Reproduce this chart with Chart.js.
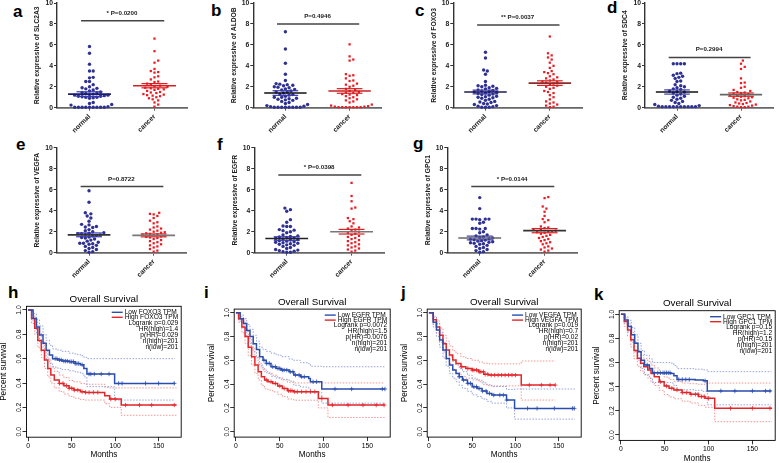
<!DOCTYPE html>
<html>
<head>
<meta charset="utf-8">
<script src="https://cdn.jsdelivr.net/npm/chart.js@4"></script>
<style>
html, body { margin: 0; padding: 0; background: #fff; }
body { position: relative; width: 779px; height: 463px; overflow: hidden; font-family: "Liberation Sans", Arial, sans-serif; }
canvas { position: absolute; }
.lbl { position: absolute; font-weight: bold; font-size: 17px; line-height: 17px; color: #000; }
</style>
</head>
<body>
<div class="lbl" style="left:13px;top:2.6px">a</div>
<div class="lbl" style="left:211px;top:2.3px">b</div>
<div class="lbl" style="left:415px;top:2.3px">c</div>
<div class="lbl" style="left:607px;top:-1.1px">d</div>
<div class="lbl" style="left:16px;top:135.6px">e</div>
<div class="lbl" style="left:217px;top:135.6px">f</div>
<div class="lbl" style="left:413px;top:134.6px">g</div>
<div class="lbl" style="left:8px;top:283.9px">h</div>
<div class="lbl" style="left:204px;top:283.9px">i</div>
<div class="lbl" style="left:401px;top:283.9px">j</div>
<div class="lbl" style="left:594px;top:285.6px">k</div>
<script>
// ---- dot plots (a-g) ----
const groups = ['normal', 'cancer'];
const genes = ['SLC2A3', 'ALDOB', 'FOXO3', 'SDC4', 'VEGFA', 'EGFR', 'GPC1'];
const pText = ['* P=0.0200', 'P=0.4946', '** P=0.0037', 'P=0.2994', 'P=0.8722', '* P=0.0398', '* P=0.0144'];
const pBarY = [8.3, 8.0, 7.9, 4.8, 6.3, 7.4, 6.3];
const meanNormal = [1.3, 1.4, 1.5, 1.5, 1.7, 1.35, 1.4];
const semNormal = [0.22, 0.22, 0.18, 0.2, 0.18, 0.17, 0.18];
const meanCancer = [2.1, 1.6, 2.35, 1.25, 1.65, 2.0, 2.1];
const semCancer = [0.2, 0.22, 0.22, 0.16, 0.14, 0.22, 0.2];

const aNormal = [5.85,5.2,4.15,3.5,3.5,2.9,2.85,2.5,2.5,2.2,2.0,1.9,1.85,1.8,1.7,1.6,1.5,1.45,1.4,1.35,1.3,1.25,1.2,1.2,1.15,1.1,1.1,1.05,1.0,1.0,0.95,0.9,0.5,0.4,0.3,0.25,0.1,0.05,0.05,0.05,0.05,0.05,0.05,0.05,0.05,0.05];
const aCancer = [6.6,5.4,4.5,4.3,3.7,3.5,3.4,3.35,3.0,2.9,2.7,2.5,2.45,2.3,2.2,2.1,2.05,2.0,1.9,1.85,1.8,1.75,1.7,1.6,1.5,1.45,1.4,1.3,1.25,1.2,1.15,1.1,1.0,0.9,0.8,0.7,0.5,0.3,0.1];
const bNormal = [7.25,5.6,4.25,3.2,2.6,2.3,2.25,2.2,2.15,2.1,2.0,1.95,1.9,1.8,1.75,1.7,1.6,1.5,1.5,1.4,1.3,1.25,1.2,1.1,1.0,1.0,0.9,0.85,0.8,0.75,0.7,0.6,0.5,0.4,0.3,0.2,0.15,0.1,0.05,0.05,0.05,0.05,0.05,0.05,0.05,0.05];
const bCancer = [6.05,4.9,4.6,4.5,3.2,3.1,3.05,2.8,2.6,2.55,2.3,2.2,2.1,2.0,1.8,1.7,1.6,1.5,1.45,1.4,1.3,1.25,1.2,1.1,1.0,0.9,0.8,0.7,0.6,0.5,0.3,0.2,0.15,0.1,0.1,0.05,0.05,0.05,0.05,0.05,0.05,0.05];
const cNormal = [5.3,4.75,3.6,3.5,3.2,2.5,2.15,2.1,2.05,2.0,1.9,1.85,1.8,1.7,1.65,1.6,1.55,1.5,1.45,1.4,1.35,1.3,1.25,1.2,1.1,1.05,1.0,0.95,0.9,0.8,0.7,0.6,0.55,0.5,0.4,0.35,0.3,0.2,0.15,0.1,0.05,0.05,0.05];
const cCancer = [6.8,5.2,5.0,4.8,4.6,4.3,4.0,3.8,3.5,3.4,3.3,3.2,3.0,2.9,2.8,2.7,2.6,2.5,2.45,2.4,2.3,2.2,2.1,2.0,1.9,1.8,1.6,1.5,1.4,1.2,1.0,0.8,0.6,0.5,0.4,0.3,0.2,0.1,0.05];
const dNormal = [4.2,4.2,4.2,4.2,3.3,3.25,3.1,3.0,2.9,2.8,2.55,2.5,2.2,2.1,2.0,1.9,1.8,1.75,1.6,1.55,1.5,1.4,1.3,1.2,1.1,1.0,0.9,0.8,0.7,0.6,0.5,0.4,0.3,0.2,0.15,0.1,0.1,0.1,0.1,0.1,0.1,0.1,0.1,0.1,0.1];
const dCancer = [4.5,4.2,3.9,3.7,2.8,2.4,2.35,2.0,1.9,1.7,1.6,1.5,1.45,1.4,1.35,1.3,1.2,1.15,1.1,1.05,1.0,0.95,0.9,0.8,0.75,0.7,0.6,0.5,0.45,0.4,0.35,0.3,0.25,0.2,0.15,0.1,0.1,0.05,0.05];
const eNormal = [5.9,4.8,3.8,3.7,3.5,3.3,3.0,2.7,2.65,2.5,2.45,2.4,2.2,2.1,2.0,1.9,1.85,1.8,1.8,1.75,1.7,1.65,1.6,1.5,1.45,1.4,1.3,1.2,1.1,1.0,0.9,0.9,0.85,0.8,0.7,0.6,0.5,0.4,0.3,0.2,0.1,0.05];
const eCancer = [3.8,3.7,3.65,3.5,3.3,3.05,2.9,2.8,2.5,2.4,2.3,2.2,2.1,2.0,1.95,1.9,1.85,1.8,1.75,1.7,1.65,1.6,1.55,1.5,1.45,1.4,1.3,1.2,1.1,1.0,0.9,0.8,0.7,0.6,0.5,0.35,0.2,0.1];
const fNormal = [4.25,4.1,3.95,3.15,2.9,2.55,2.5,2.5,2.2,2.15,2.1,2.0,1.9,1.7,1.6,1.55,1.5,1.45,1.4,1.35,1.3,1.25,1.2,1.15,1.1,1.05,1.0,0.95,0.9,0.85,0.8,0.75,0.7,0.6,0.5,0.4,0.3,0.25,0.2,0.15,0.1,0.05,0.05];
const fCancer = [6.65,5.4,4.9,4.3,4.2,3.3,3.2,3.0,2.8,2.5,2.4,2.3,2.2,2.1,2.0,1.9,1.8,1.7,1.6,1.5,1.4,1.3,1.2,1.1,1.0,0.9,0.8,0.7,0.6,0.5,0.4,0.3,0.2,0.1];
const gNormal = [5.25,4.2,3.2,3.2,3.2,3.2,3.15,2.9,2.8,2.3,2.3,2.3,2.25,2.0,1.9,1.7,1.6,1.5,1.45,1.4,1.35,1.3,1.25,1.2,1.15,1.1,1.05,1.0,0.95,0.9,0.85,0.8,0.7,0.6,0.5,0.4,0.3,0.2,0.1,0.05];
const gCancer = [5.3,5.2,4.4,4.2,3.9,3.5,3.2,3.1,2.9,2.5,2.4,2.35,2.2,2.15,2.1,2.05,2.0,1.95,1.9,1.8,1.7,1.6,1.5,1.4,1.3,1.2,1.1,1.0,0.9,0.8,0.6,0.5,0.4,0.3,0.2,0.1];
const yTicksDot = [0, 2, 4, 6, 8, 10];

// ---- survival curves (h-k) ----
const kmGenes = ['FOXO3', 'EGFR', 'VEGFA', 'GPC1'];
const logrankP = ['0.029', '0.0072', '0.019', '0.15'];
const hrHigh = ['1.4', '1.5', '0.7', '1.2'];
const pHR = ['0.029', '0.0076', '0.02', '0.15'];
const nHigh = [201, 201, 201, 201];
const nLow = [201, 201, 201, 201];
const monthTicks = [0, 50, 100, 150];
const survTicks = [0, 0.2, 0.4, 0.6, 0.8, 1.0];

const hLowT = [0,5.6,9.4,13,17,20.6,24.4,28,34,39,47,54,60,64,67.5,99.4,169];
const hLowS = [1,0.93,0.86,0.795,0.726,0.67,0.63,0.60,0.59,0.58,0.575,0.56,0.55,0.52,0.474,0.397,0.397];
const hLowU = [1,0.97,0.92,0.87,0.80,0.75,0.71,0.68,0.67,0.66,0.645,0.635,0.625,0.61,0.60,0.60,0.60];
const hLowL = [1,0.89,0.80,0.73,0.66,0.60,0.56,0.53,0.52,0.51,0.50,0.49,0.48,0.45,0.37,0.26,0.26];
const hHighT = [0,3.8,7.5,11,15,18.7,22.5,26,30,35.6,41,47,52.5,60,65.6,88,93.7,107,170.6];
const hHighS = [1,0.93,0.85,0.75,0.67,0.59,0.52,0.466,0.425,0.397,0.378,0.356,0.342,0.329,0.323,0.296,0.268,0.219,0.219];
const hHighU = [1,0.96,0.9,0.81,0.74,0.66,0.59,0.535,0.495,0.465,0.445,0.42,0.41,0.395,0.39,0.365,0.36,0.36,0.36];
const hHighL = [1,0.89,0.8,0.69,0.61,0.52,0.45,0.40,0.36,0.33,0.31,0.29,0.275,0.265,0.26,0.23,0.2,0.135,0.135];
const hLowCens = [31,33,36,38,41,43,45,48,50,52,54,56,58,62,70,72,76,84,93,104,108,135,150,168];
const hHighCens = [36,40,44,47,50,53,57,62,66,70,75,80,95,100,112,128,142,168];

const iLowT = [0,4.8,8.6,12.3,16,19.7,23.4,27,30.9,34.6,40,45.8,51.4,60.7,66,73.7,83,84.9,97.9,170];
const iLowS = [1,0.95,0.91,0.85,0.80,0.74,0.69,0.63,0.60,0.574,0.546,0.532,0.518,0.504,0.476,0.462,0.448,0.42,0.359,0.359];
const iLowU = [1,0.98,0.95,0.9,0.86,0.81,0.76,0.71,0.69,0.675,0.66,0.645,0.63,0.61,0.6,0.58,0.57,0.55,0.546,0.546];
const iLowL = [1,0.92,0.87,0.8,0.74,0.67,0.62,0.56,0.52,0.495,0.465,0.45,0.44,0.425,0.39,0.375,0.36,0.33,0.24,0.24];
const iHighT = [0,3,6.7,10.4,14,17.9,21.6,25.3,29,32.7,36.5,42,47.6,53,58.8,66,94,105,169.7];
const iHighS = [1,0.95,0.88,0.80,0.71,0.63,0.56,0.504,0.462,0.434,0.42,0.406,0.384,0.364,0.345,0.336,0.28,0.224,0.224];
const iHighU = [1,0.98,0.93,0.86,0.78,0.7,0.63,0.575,0.535,0.505,0.49,0.475,0.455,0.435,0.415,0.41,0.41,0.41,0.41];
const iHighL = [1,0.92,0.83,0.74,0.64,0.56,0.49,0.435,0.39,0.36,0.35,0.335,0.315,0.295,0.275,0.265,0.2,0.12,0.12];
const iLowCens = [32,35,38,42,45,48,50,53,55,58,62,65,68,72,75,78,88,92,113,132,167,170];
const iHighCens = [35,40,45,50,55,60,62,64,67,70,75,80,85,90,98,110,128,145,160,169];

const jLowT = [0,4.9,8.7,12.4,16.2,20,23.7,27.5,31.3,35,38.8,44.5,50,55.8,61.4,67,72.7,89.7,99,168.8];
const jLowS = [1,0.92,0.854,0.77,0.686,0.616,0.56,0.518,0.49,0.462,0.434,0.406,0.378,0.364,0.342,0.322,0.308,0.266,0.196,0.196];
const jLowU = [1,0.96,0.91,0.83,0.75,0.685,0.63,0.59,0.56,0.53,0.505,0.475,0.45,0.435,0.41,0.395,0.38,0.355,0.359,0.359];
const jLowL = [1,0.88,0.8,0.71,0.62,0.55,0.49,0.45,0.42,0.39,0.365,0.34,0.31,0.295,0.275,0.255,0.24,0.2,0.106,0.106];
const jHighT = [0,4.9,8.7,12.4,16.2,20,23.7,27.5,31.3,37,42.6,50,57.7,63.3,69,106.7,146];
const jHighS = [1,0.94,0.88,0.81,0.74,0.686,0.644,0.602,0.574,0.546,0.532,0.518,0.504,0.482,0.476,0.392,0.392];
const jHighU = [1,0.97,0.93,0.87,0.81,0.76,0.72,0.68,0.655,0.63,0.615,0.6,0.585,0.575,0.57,0.594,0.594];
const jHighL = [1,0.9,0.83,0.75,0.67,0.61,0.57,0.525,0.495,0.465,0.45,0.435,0.42,0.395,0.385,0.266,0.266];
const jLowCens = [35,40,45,48,52,55,58,62,66,70,75,82,86,90,114,125,145,166,168];
const jHighCens = [38,45,50,52,55,58,60,63,65,68,72,76,80,84,88,92,96,100,116,130,140,146];

const kLowT = [0,4.5,8.2,11.9,15.7,19.4,23,26.9,32.5,36,56.7,60.4,64,84.7,94,98.5,171.6];
const kLowS = [1,0.953,0.9,0.83,0.76,0.69,0.62,0.58,0.55,0.515,0.51,0.49,0.46,0.455,0.45,0.365,0.365];
const kLowU = [1,0.98,0.95,0.89,0.83,0.76,0.7,0.66,0.63,0.6,0.595,0.575,0.55,0.545,0.54,0.525,0.525];
const kLowL = [1,0.92,0.85,0.77,0.69,0.62,0.55,0.5,0.47,0.435,0.43,0.41,0.375,0.37,0.36,0.25,0.25];
const kHighT = [0,3.7,7.5,11.2,14.9,18.7,22.4,26,30.6,34.3,38,43.7,49.3,54.9,60.4,69.8,79,88.4,95.9,107,172.4];
const kHighS = [1,0.94,0.87,0.79,0.70,0.635,0.594,0.566,0.539,0.51,0.483,0.442,0.406,0.387,0.373,0.351,0.337,0.318,0.304,0.221,0.221];
const kHighU = [1,0.97,0.92,0.85,0.77,0.70,0.66,0.635,0.61,0.58,0.555,0.515,0.48,0.46,0.445,0.43,0.425,0.42,0.43,0.43,0.43];
const kHighL = [1,0.9,0.82,0.73,0.63,0.57,0.53,0.5,0.47,0.44,0.41,0.37,0.335,0.315,0.3,0.28,0.265,0.245,0.23,0.11,0.11];
const kLowCens = [30,38,42,45,48,50,52,54,56,66,70,74,78,96,114,130,150,165,170];
const kHighCens = [45,52,58,64,70,75,80,85,88,92,95,100,125,150,170];

// ---- layout / style ----
const FONT = '"Liberation Sans", Arial, Helvetica, sans-serif';
Chart.defaults.font.family = FONT;
Chart.defaults.color = '#111';
Chart.defaults.animation = false;
Chart.defaults.plugins.legend.display = false;
Chart.defaults.plugins.tooltip.enabled = false;

const dotBoxes = [
  { l: 57, t: 3, r: 187, b: 107.7 },
  { l: 253.3, t: 3, r: 381.7, b: 107.7 },
  { l: 453.3, t: 3, r: 582, b: 107.7 },
  { l: 645, t: 3, r: 773, b: 107.7 },
  { l: 56.7, t: 147.7, r: 186, b: 252.7 },
  { l: 254.3, t: 147.7, r: 384, b: 252.7 },
  { l: 447.3, t: 147.7, r: 577, b: 252.7 }
];
const kmBoxes = [
  { l: 26.5, t: 306.3, r: 184.8, b: 437.2 },
  { l: 234.2, t: 309.1, r: 393.2, b: 437.1 },
  { l: 427.2, t: 309.1, r: 584.7, b: 437.1 },
  { l: 619.2, t: 310.7, r: 778.2, b: 440.4 }
];
const normalCol = '#2e3192', cancerCol = '#ec1c24';
const meanColN = ['#1c1c6e', '#111111', '#1c1c50', '#111111', '#333333', '#222222', '#666666'];
const meanColC = ['#d42020', '#c62020', '#8a2a2a', '#666666', '#777777', '#777777', '#333333'];
const blue = '#2b4dad', red = '#e3262a', blueCI = '#7c8dd2', redCI = '#ef7b7b';

function makeCanvas(box, m, yW, xH) {
  const c = document.createElement('canvas');
  const x0 = Math.floor(box.l - m.l), y0 = Math.floor(box.t - m.t);
  const w = Math.ceil(box.r + m.r) - x0, h = Math.ceil(box.b + m.b) - y0;
  c.width = w; c.height = h;
  c.style.left = x0 + 'px'; c.style.top = y0 + 'px';
  c.style.width = w + 'px'; c.style.height = h + 'px';
  document.body.appendChild(c);
  const padding = {
    left: box.l - x0 - yW,
    top: box.t - y0,
    right: w - (box.r - x0),
    bottom: h - (box.b - y0) - xH
  };
  return { c, padding };
}

// simple beeswarm: horizontal offsets (in x units) so dots don't overlap
function swarm(vals, pxX, pxY) {
  const d = 3.7, placed = [], off = new Array(vals.length);
  const order = vals.map((v, k) => k).sort((a, b) => vals[a] - vals[b]);
  order.forEach(k => {
    const yp = vals[k] * pxY;
    for (let n = 0; n < 100; n++) {
      const xo = (n % 2 ? 1 : -1) * Math.ceil(n / 2) * d / 2;
      if (placed.every(q => (q.x - xo) ** 2 + (q.y - yp) ** 2 >= d * d * 0.95)) {
        placed.push({ x: xo, y: yp });
        off[k] = xo / pxX;
        break;
      }
    }
  });
  return off;
}

const sigPlugin = {
  id: 'sig',
  afterDatasetsDraw(chart, args, opts) {
    const { ctx, scales: { x, y } } = chart;
    ctx.save();
    ctx.font = 'bold 6.2px ' + FONT;
    ctx.fillStyle = '#222';
    ctx.textAlign = 'center';
    ctx.fillText(opts.text, x.getPixelForValue(1), y.getPixelForValue(opts.yBar) - 6);
    ctx.restore();
  }
};

const normalVals = [aNormal, bNormal, cNormal, dNormal, eNormal, fNormal, gNormal];
const cancerVals = [aCancer, bCancer, cCancer, dCancer, eCancer, fCancer, gCancer];

function hline(cx, y, hw) { return [{ x: cx - hw, y }, { x: cx + hw, y }]; }

function dotChart(p) {
  const box = dotBoxes[p];
  const yW = 23.5, xH = 30;
  const { c, padding } = makeCanvas(box, { l: 60, t: 12, r: 8, b: 34 }, yW, xH);
  const pxX = (box.r - box.l) / 2, pxY = (box.b - box.t) / 10;
  const nv = normalVals[p], cv = cancerVals[p];
  const nOff = swarm(nv, pxX, pxY), cOff = swarm(cv, pxX, pxY);
  const seg = (data, color, width) => ({ data, showLine: true, borderColor: color, borderWidth: width, pointRadius: 0, clip: false });
  new Chart(c, {
    type: 'scatter',
    data: {
      datasets: [
        seg(hline(0.5, meanNormal[p], 0.33), meanColN[p], 1.6),
        seg(hline(1.5, meanCancer[p], 0.33), meanColC[p], 1.6),
        seg(hline(0.5, meanNormal[p] + semNormal[p], 0.2), '#3a3ab0', 1.2),
        seg(hline(0.5, meanNormal[p] - semNormal[p], 0.2), '#3a3ab0', 1.2),
        seg(hline(1.5, meanCancer[p] + semCancer[p], 0.2), '#e02020', 1.2),
        seg(hline(1.5, meanCancer[p] - semCancer[p], 0.2), '#e02020', 1.2),
        seg([{ x: 0.37, y: pBarY[p] }, { x: 1.65, y: pBarY[p] }], '#444', 1.4),
        { data: nv.map((v, k) => ({ x: 0.5 + nOff[k], y: v })), pointStyle: 'circle', pointRadius: 1.7,
          backgroundColor: normalCol, borderWidth: 0, clip: false },
        { data: cv.map((v, k) => ({ x: 1.5 + cOff[k], y: v })), pointStyle: 'rect', pointRadius: 1.6,
          backgroundColor: cancerCol, borderWidth: 0, clip: false }
      ]
    },
    options: {
      responsive: false,
      layout: { padding },
      plugins: { sig: { text: pText[p], yBar: pBarY[p] } },
      scales: {
        x: {
          type: 'linear', min: 0, max: 2,
          afterBuildTicks: s => { s.ticks = [{ value: 0.5 }, { value: 1.5 }]; },
          afterFit: s => { s.height = xH; },
          grid: { display: true, drawOnChartArea: false, tickLength: 3, color: '#555', lineWidth: 1 },
          border: { display: true, color: '#666', width: 1.8 },
          ticks: { autoSkip: false, minRotation: 45, maxRotation: 45, padding: 2,
                   font: { size: 6.8, weight: 'bold' }, color: '#222',
                   callback: v => (v < 1 ? groups[0] : groups[1]) }
        },
        y: {
          type: 'linear', min: 0, max: 10,
          afterBuildTicks: s => { s.ticks = yTicksDot.map(v => ({ value: v })); },
          afterFit: s => { s.width = yW; },
          grid: { display: true, drawOnChartArea: false, tickLength: 3, color: '#333', lineWidth: 1 },
          border: { display: true, color: '#333', width: 1.4 },
          ticks: { padding: 1, font: { size: 6.8, weight: 'bold' }, color: '#222' },
          title: { display: true, text: 'Relative expressive of ' + genes[p], padding: 0,
                   font: { size: 6.7, weight: 'bold' }, color: '#222' }
        }
      }
    },
    plugins: [sigPlugin]
  });
}

// ---- survival ----
function survAt(T, S, t) {
  let v = S[0];
  for (let k = 0; k < T.length; k++) if (T[k] <= t) v = S[k];
  return v;
}
function pts(T, V) { return T.map((t, k) => ({ x: t, y: V[k] })); }

const kmLowT = [hLowT, iLowT, jLowT, kLowT], kmLowS = [hLowS, iLowS, jLowS, kLowS];
const kmLowU = [hLowU, iLowU, jLowU, kLowU], kmLowL = [hLowL, iLowL, jLowL, kLowL];
const kmHighT = [hHighT, iHighT, jHighT, kHighT], kmHighS = [hHighS, iHighS, jHighS, kHighS];
const kmHighU = [hHighU, iHighU, jHighU, kHighU], kmHighL = [hHighL, iHighL, jHighL, kHighL];
const kmLowC = [hLowCens, iLowCens, jLowCens, kLowCens], kmHighC = [hHighCens, iHighCens, jHighCens, kHighCens];

const kmPlugin = {
  id: 'km',
  afterDraw(chart, args, o) {
    const { ctx, chartArea: a, scales: { y } } = chart;
    ctx.save();
    ctx.strokeStyle = '#000'; ctx.lineWidth = 0.9;
    ctx.strokeRect(a.left, a.top, a.right - a.left, a.bottom - a.top);
    ctx.fillStyle = '#000';
    // rotated y tick labels (R style)
    ctx.font = '6.8px ' + FONT;
    ctx.textAlign = 'center'; ctx.textBaseline = 'middle';
    survTicks.forEach(v => {
      ctx.save();
      ctx.translate(a.left - 7.5, y.getPixelForValue(v));
      ctx.rotate(-Math.PI / 2);
      ctx.fillText(v.toFixed(1), 0, 0);
      ctx.restore();
    });
    const cx = (a.left + a.right) / 2, cy = (a.top + a.bottom) / 2;
    ctx.font = '9.8px ' + FONT;
    ctx.fillText('Overall Survival', cx, a.top - 7);
    ctx.font = '8.2px ' + FONT;
    ctx.fillText('Months', cx, a.bottom + 18);
    ctx.save();
    ctx.translate(a.left - 22.5, cy);
    ctx.rotate(-Math.PI / 2);
    ctx.fillText('Percent survival', 0, 0);
    ctx.restore();
    // legend
    ctx.font = '6.6px ' + FONT;
    const right = a.right - 3, lh = 6, y0 = a.top + 6;
    const l1 = 'Low ' + o.gene + ' TPM', l2 = 'High ' + o.gene + ' TPM';
    const tw = Math.max(ctx.measureText(l1).width, ctx.measureText(l2).width);
    const tx = right - tw;
    ctx.textAlign = 'left';
    [[l1, blue], [l2, red]].forEach(([txt, col], k) => {
      const yy = y0 + k * 5;
      ctx.strokeStyle = col; ctx.lineWidth = 1.4;
      ctx.beginPath(); ctx.moveTo(tx - 13, yy); ctx.lineTo(tx - 2, yy); ctx.stroke();
      ctx.fillStyle = '#000';
      ctx.fillText(txt, tx, yy);
    });
    ctx.textAlign = 'right';
    o.lines.forEach((txt, k) => ctx.fillText(txt, right, y0 + 10.5 + k * lh));
    ctx.restore();
  }
};

function kmChart(i) {
  const box = kmBoxes[i];
  const yW = 5, xH = 16;
  const { c, padding } = makeCanvas(box, { l: 32, t: 14, r: 1, b: 24 }, yW, xH);
  const T1 = kmLowT[i], S1 = kmLowS[i], T2 = kmHighT[i], S2 = kmHighS[i];
  const curve = (data, color, w) => ({ data, borderColor: color, borderWidth: w, stepped: true, pointRadius: 0, fill: false });
  const ci = (data, color) => ({ data, borderColor: color, borderWidth: 0.8, borderDash: [1.5, 1.5], stepped: true, pointRadius: 0, fill: false });
  const cens = (C, T, S, color) => ({ data: C.map(t => ({ x: t, y: survAt(T, S, t) })), showLine: false,
    pointStyle: 'cross', pointRadius: 2.2, borderColor: color, borderWidth: 0.8, clip: false });
  new Chart(c, {
    type: 'line',
    data: {
      datasets: [
        cens(kmLowC[i], T1, S1, blue),
        cens(kmHighC[i], T2, S2, red),
        curve(pts(T1, S1), blue, 1.5),
        curve(pts(T2, S2), red, 1.5),
        ci(pts(T1, kmLowU[i]), blueCI),
        ci(pts(T1, kmLowL[i]), blueCI),
        ci(pts(T2, kmHighU[i]), redCI),
        ci(pts(T2, kmHighL[i]), redCI)
      ]
    },
    options: {
      responsive: false,
      layout: { padding },
      plugins: {
        km: {
          gene: kmGenes[i],
          lines: ['Logrank p=' + logrankP[i], 'HR(high)=' + hrHigh[i], 'p(HR)=' + pHR[i],
                  'n(high)=' + nHigh[i], 'n(low)=' + nLow[i]]
        }
      },
      scales: {
        x: {
          type: 'linear', min: -2, max: 176,
          afterBuildTicks: s => { s.ticks = monthTicks.map(v => ({ value: v })); },
          afterFit: s => { s.height = xH; },
          grid: { display: true, drawOnChartArea: false, tickLength: 4, color: '#000', lineWidth: 0.8 },
          border: { display: false },
          ticks: { autoSkip: false, maxRotation: 0, padding: 1, font: { size: 6.8 }, color: '#000' }
        },
        y: {
          type: 'linear', min: -0.045, max: 1.03,
          afterBuildTicks: s => { s.ticks = survTicks.map(v => ({ value: v })); },
          afterFit: s => { s.width = yW; },
          grid: { display: true, drawOnChartArea: false, tickLength: 4, color: '#000', lineWidth: 0.8 },
          border: { display: false },
          ticks: { padding: 0, callback: () => '' }
        }
      }
    },
    plugins: [kmPlugin]
  });
}

for (let p = 0; p < 7; p++) dotChart(p);
for (let i = 0; i < 4; i++) kmChart(i);
</script>
</body>
</html>
